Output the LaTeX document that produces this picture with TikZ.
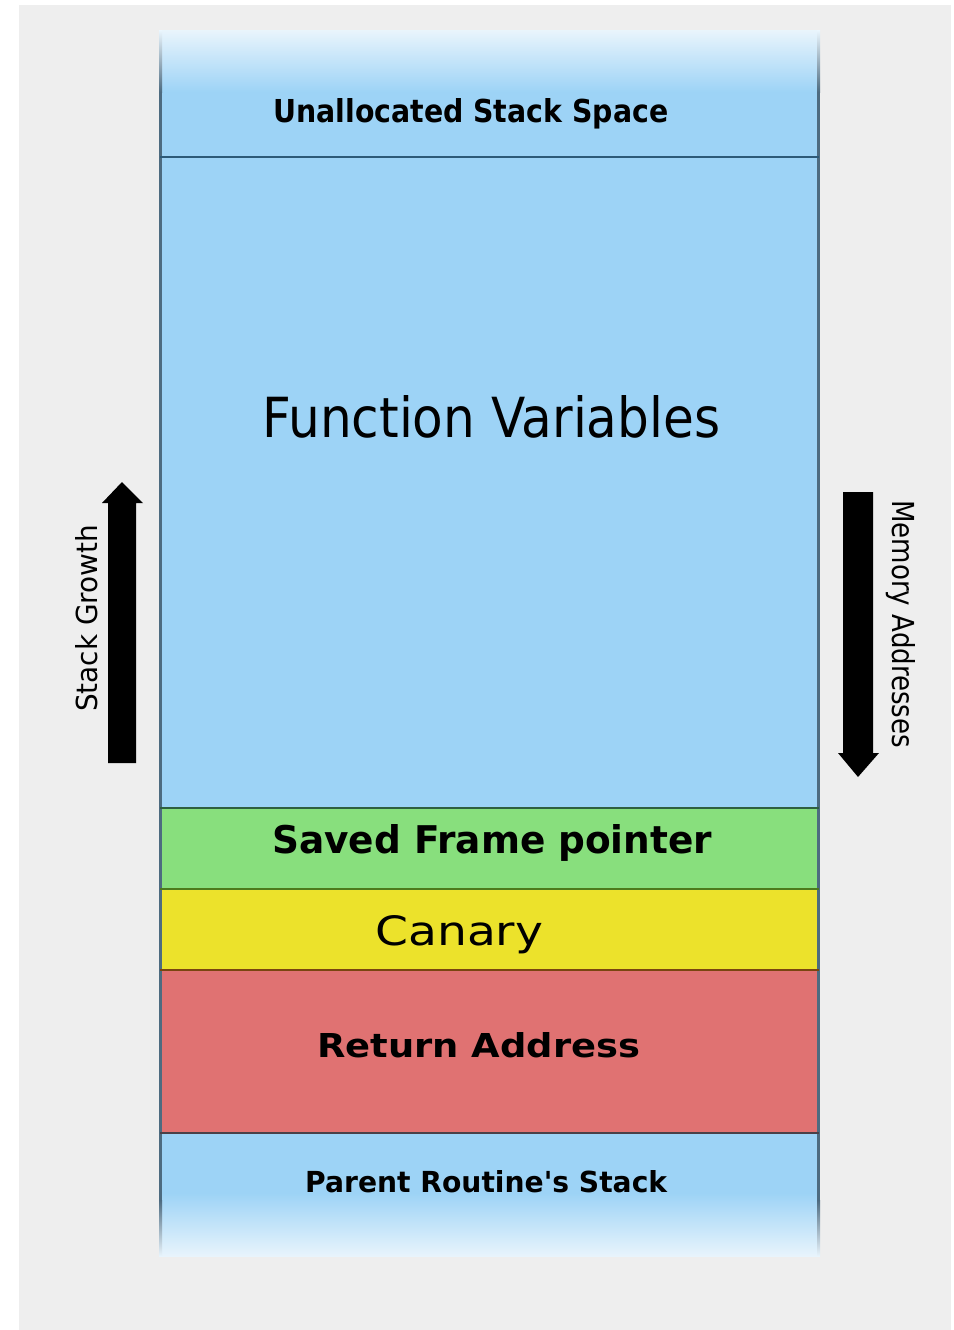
\documentclass[tikz,border=0pt]{standalone}
\usepackage{fontspec}
\setmainfont{DejaVu Sans}
\usepackage{graphicx}
\definecolor{bggray}{HTML}{EEEEEE}
\definecolor{stackblue}{HTML}{9DD3F6}
\definecolor{paleblue}{HTML}{E8F4FC}
\definecolor{framegreen}{HTML}{88DF7D}
\definecolor{canaryyellow}{HTML}{ECE22B}
\definecolor{retred}{HTML}{E07272}
\definecolor{borderslate}{HTML}{4D6B80}
\definecolor{lineblue}{HTML}{2D5A78}
\definecolor{linegreen}{HTML}{2F5F40}
\definecolor{lineolive}{HTML}{4D7A1C}
\definecolor{linebrown}{HTML}{7A4510}
\definecolor{linedark}{HTML}{4A4048}
\newcommand{\fitbox}[3]{\resizebox{#1pt}{#2pt}{#3}}
\tikzset{
  lbl/.style={inner sep=0pt, anchor=base west, text=black},
  sepline/.style={line width=2pt},
  bigarrow/.style={fill=black, draw=none}
}
\begin{document}
\begin{tikzpicture}[x=1pt,y=-1pt]
\useasboundingbox (0,0) rectangle (953,1330);
\fill[white] (0,0) rectangle (953,1330);
\fill[bggray] (19,5) rectangle (951,1330);
% stack column
\fill[stackblue] (160,92) rectangle (819,1193);
\shade[top color=paleblue, bottom color=stackblue] (160,31) rectangle (819,92);
\shade[top color=stackblue, bottom color=paleblue] (160,1193) rectangle (819,1256);
\fill[framegreen] (160,808) rectangle (819,889);
\fill[canaryyellow] (160,889) rectangle (819,970);
\fill[retred] (160,970) rectangle (819,1133);
% borders
\fill[borderslate] (159,92) rectangle (162,1200);
\fill[borderslate] (817,92) rectangle (820,1200);
\shade[top color=paleblue, bottom color=borderslate] (159,31) rectangle (162,92);
\shade[top color=paleblue, bottom color=borderslate] (817,31) rectangle (820,92);
\shade[top color=borderslate, bottom color=paleblue] (159,1200) rectangle (162,1256);
\shade[top color=borderslate, bottom color=paleblue] (817,1200) rectangle (820,1256);
% separators
\draw[sepline, lineblue] (160,156.5) -- (819,156.5);
\draw[sepline, linegreen] (160,808) -- (819,808);
\draw[sepline, lineolive] (160,889) -- (819,889);
\draw[sepline, linebrown] (160,970) -- (819,970);
\draw[sepline, linedark] (160,1133) -- (819,1133);
% labels
\node[lbl] (unalloc) at (273,122) {\fitbox{395}{24}{\bfseries Unallocated Stack Space}};
\node[lbl] (funcvars) at (262,437) {\fitbox{458}{42}{Function Variables}};
\node[lbl] (savedfp) at (272,853) {\fitbox{440}{29}{\bfseries Saved Frame pointer}};
\node[lbl] (canary) at (375,945) {\fitbox{168}{30}{Canary}};
\node[lbl] (retaddr) at (317,1057) {\fitbox{323}{25}{\bfseries Return Address}};
\node[lbl] (parent) at (305,1192) {\fitbox{362}{22}{\bfseries Parent Routine\textquotesingle s Stack}};
\node[lbl, rotate=90] (growth) at (97,712) {\fitbox{187}{22}{Stack Growth}};
\node[lbl, rotate=-90] (memaddr) at (892,500) {\fitbox{248}{23}{Memory Addresses}};
% arrows
\fill[bigarrow] (108,763) -- (108,503) -- (102,503) -- (122,482) -- (143,503) -- (136,503) -- (136,763) -- cycle;
\fill[bigarrow] (843,492) -- (843,753) -- (838,753) -- (858,777) -- (879,753) -- (873,753) -- (873,492) -- cycle;
\end{tikzpicture}
\end{document}
